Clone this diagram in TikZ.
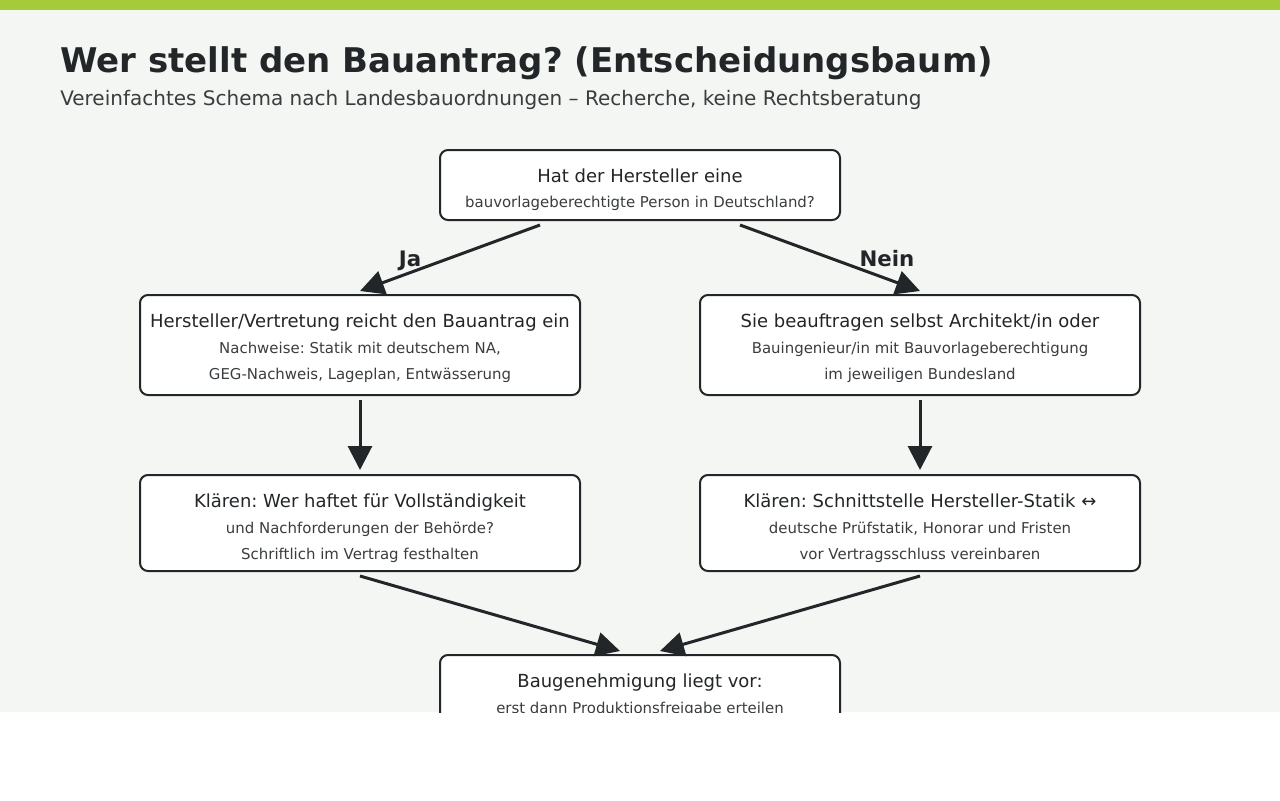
\documentclass[tikz,border=0pt]{standalone}
\usepackage{fontspec}
\setmainfont{DejaVu Sans}
\usetikzlibrary{arrows.meta}
\frenchspacing
\definecolor{bggray}{HTML}{F3F6F3}
\definecolor{topgreen}{HTML}{A6CB3A}
\definecolor{ink}{HTML}{232628}
\definecolor{subink}{HTML}{3A3D3F}
\tikzset{
  box/.style={draw=ink, line width=1.5pt, rounded corners=6pt, fill=white, inner sep=0pt},
  maintxt/.style={anchor=base, inner sep=0pt, text=ink, font=\fontsize{13.5pt}{16pt}\selectfont},
  subtxt/.style={anchor=base, inner sep=0pt, text=subink, font=\fontsize{11.2pt}{13pt}\selectfont},
  conn/.style={draw=ink, line width=2.25pt, -{Triangle[length=18pt,width=18pt]}},
  edgelbl/.style={anchor=base, inner sep=0pt, text=ink, font=\bfseries\fontsize{16pt}{19pt}\selectfont}
}
\begin{document}
\begin{tikzpicture}[x=0.75pt,y=-0.75pt]
\useasboundingbox (0,0) rectangle (1280,800);
\fill[white] (0,0) rectangle (1280,800);
\begin{scope}
\clip (0,0) rectangle (1280,712);
\fill[bggray] (0,0) rectangle (1280,712);
\fill[topgreen] (0,0) rectangle (1280,10);
\node[anchor=base west, inner sep=0pt, text=ink, font=\bfseries\fontsize{25.5pt}{30pt}\selectfont] (title) at (60,72) {Wer stellt den Bauantrag? (Entscheidungsbaum)};
\node[anchor=base west, inner sep=0pt, text=subink, font=\fontsize{15pt}{18pt}\selectfont] (subtitle) at (60,105) {Vereinfachtes Schema nach Landesbauordnungen – Recherche, keine Rechtsberatung};

\node[box, minimum width=300pt, minimum height=52.5pt] (q) at (640,185) {};
\node[maintxt] (q1) at (640,182) {Hat der Hersteller eine};
\node[subtxt] (q2) at (640,207) {bauvorlageberechtigte Person in Deutschland?};

\node[box, minimum width=330pt, minimum height=75pt] (ja) at (360,345) {};
\node[maintxt] (ja1) at (360,327) {Hersteller/Vertretung reicht den Bauantrag ein};
\node[subtxt] (ja2) at (360,353) {Nachweise: Statik mit deutschem NA,};
\node[subtxt] (ja3) at (360,379) {GEG-Nachweis, Lageplan, Entwässerung};

\node[box, minimum width=330pt, minimum height=75pt] (nein) at (920,345) {};
\node[maintxt] (nein1) at (920,327) {Sie beauftragen selbst Architekt/in oder};
\node[subtxt] (nein2) at (920,353) {Bauingenieur/in mit Bauvorlageberechtigung};
\node[subtxt] (nein3) at (920,379) {im jeweiligen Bundesland};

\node[box, minimum width=330pt, minimum height=72pt] (kl) at (360,523) {};
\node[maintxt] (kl1) at (360,507) {Klären: Wer haftet für Vollständigkeit};
\node[subtxt] (kl2) at (360,533) {und Nachforderungen der Behörde?};
\node[subtxt] (kl3) at (360,559) {Schriftlich im Vertrag festhalten};

\node[box, minimum width=330pt, minimum height=72pt] (kr) at (920,523) {};
\node[maintxt] (kr1) at (920,507) {Klären: Schnittstelle Hersteller-Statik ↔};
\node[subtxt] (kr2) at (920,533) {deutsche Prüfstatik, Honorar und Fristen};
\node[subtxt] (kr3) at (920,559) {vor Vertragsschluss vereinbaren};

\node[box, minimum width=300pt, minimum height=52.5pt] (ok) at (640,690) {};
\node[maintxt] (ok1) at (640,687) {Baugenehmigung liegt vor:};
\node[subtxt] (ok2) at (640,713) {erst dann Produktionsfreigabe erteilen};

\coordinate (qL) at (540,225);
\coordinate (qR) at (740,225);
\coordinate (jaIn) at (360,291);
\coordinate (neinIn) at (920,291);
\coordinate (jaOut) at (360,400);
\coordinate (klIn) at (360,470);
\coordinate (neinOut) at (920,400);
\coordinate (krIn) at (920,470);
\coordinate (klOut) at (360,576);
\coordinate (krOut) at (920,576);
\coordinate (okInL) at (620,651);
\coordinate (okInR) at (660,651);

\draw[conn] (qL) -- (jaIn);
\draw[conn] (qR) -- (neinIn);
\draw[conn] (jaOut) -- (klIn);
\draw[conn] (neinOut) -- (krIn);
\draw[conn] (klOut) -- (okInL);
\draw[conn] (krOut) -- (okInR);

\node[edgelbl] (lja) at (410,266) {Ja};
\node[edgelbl] (lnein) at (887,266) {Nein};
\end{scope}
\end{tikzpicture}
\end{document}
